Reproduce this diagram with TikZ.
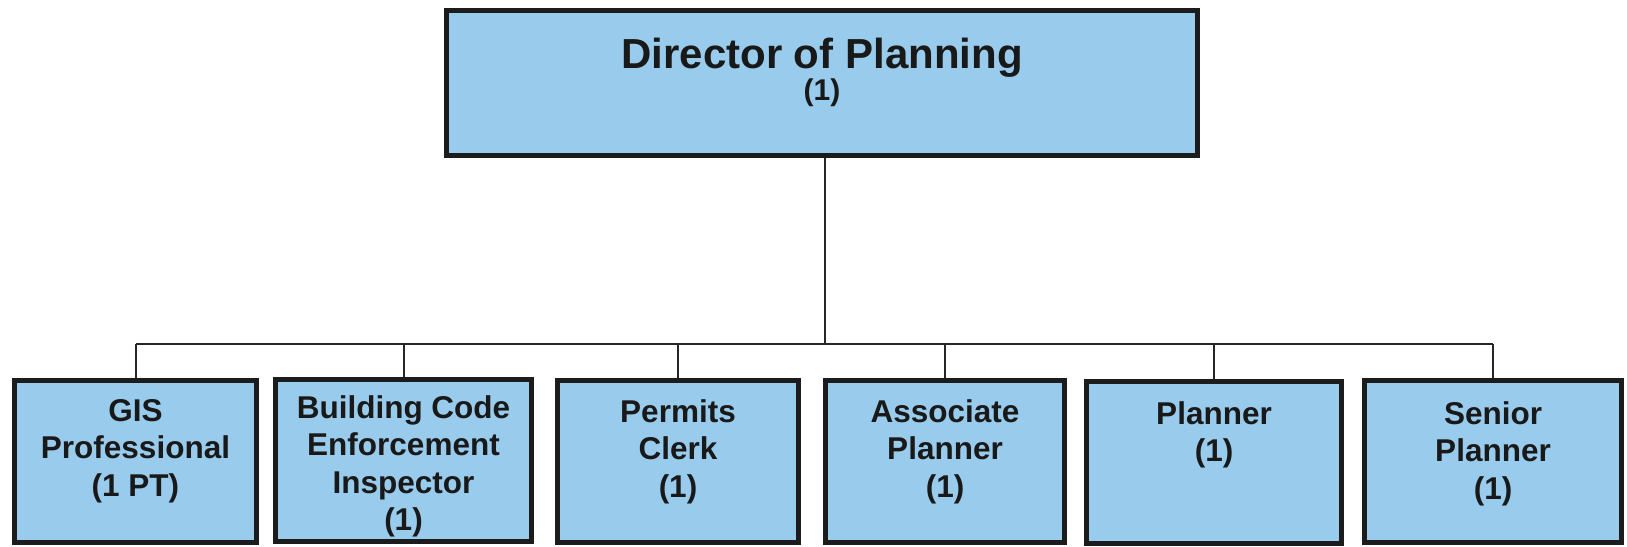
\documentclass[tikz,border=0pt]{standalone}
\usepackage{fontspec}
\setmainfont{Liberation Sans}
\definecolor{boxblue}{RGB}{152,203,236}
\definecolor{boxline}{RGB}{28,28,28}
\tikzset{
  orgbox/.style={draw=boxline, line width=2.5pt, fill=boxblue, inner sep=0pt, minimum height=81pt},
  orgtext/.style={font=\bfseries\fontsize{15.75}{18.75}\selectfont, align=center, inner sep=0pt, anchor=north, text=black!90},
  link/.style={line width=1pt, draw=black!85}
}
\begin{document}
\begin{tikzpicture}[x=0.5pt,y=-0.5pt]
\useasboundingbox (0,0) rectangle (1627,546);
% top box
\node[orgbox, minimum width=375.5pt, minimum height=72.5pt] (dir) at (822,83) {};
\node[font=\bfseries\fontsize{21}{24}\selectfont, anchor=base, inner sep=0pt, text=black!90] (dirT) at (822,68) {Director of Planning};
\node[font=\bfseries\fontsize{15}{17}\selectfont, anchor=base, inner sep=0pt, text=black!90] (dirN) at (822,100) {(1)};
% bottom boxes
\node[orgbox, minimum width=121pt] (gis) at (135.5,461.5) {};
\node[orgbox, minimum width=128pt] (bld) at (403.5,460) {};
\node[orgbox, minimum width=120.5pt] (prm) at (678,461) {};
\node[orgbox, minimum width=119.5pt] (asc) at (945,461) {};
\node[orgbox, minimum width=127.5pt] (pln) at (1214,462) {};
\node[orgbox, minimum width=128.5pt] (sen) at (1493,461) {};
% texts
\node[orgtext] (gisT) at (135.5,399) {GIS\\Professional\\(1 PT)};
\node[orgtext] (bldT) at (403.5,395) {Building Code\\Enforcement\\Inspector\\(1)};
\node[orgtext] (prmT) at (678,399) {Permits\\Clerk\\(1)};
\node[orgtext] (ascT) at (945,399) {Associate\\Planner\\(1)};
\node[orgtext] (plnT) at (1214,401) {Planner\\(1)};
\node[orgtext] (senT) at (1493,401) {Senior\\Planner\\(1)};
% connectors
\coordinate (bar) at (825,344);
\draw[link] ([xshift=1.5pt]dir.south) -- ([xshift=1.5pt]dir.south |- bar);
\draw[link] (gis.north |- bar) -- (sen.north |- bar);
\foreach \n in {gis,bld,prm,asc,pln,sen}{
  \draw[link] (\n.north |- bar) -- (\n.north);
}
\end{tikzpicture}
\end{document}
